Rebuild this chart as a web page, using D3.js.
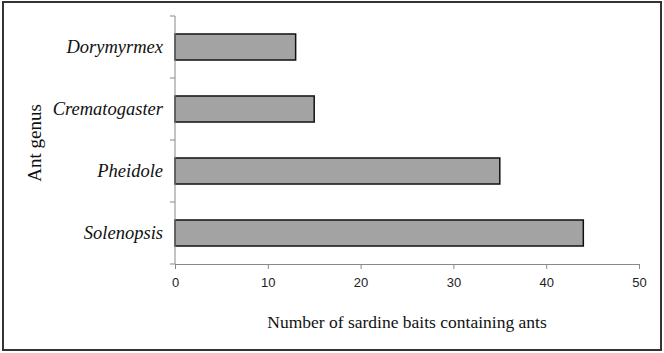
<!DOCTYPE html>
<html>
<head>
<meta charset="utf-8">
<script src="https://cdn.jsdelivr.net/npm/d3@7"></script>
<style>
  body { margin: 0; background: #fff; }
  svg { display: block; }
</style>
</head>
<body>
<svg id="chart"></svg>
<script>
// data
const genera = ["Dorymyrmex", "Crematogaster", "Pheidole", "Solenopsis"];
const baits = [13, 15, 35, 44];
const xTicks = [0, 10, 20, 30, 40, 50];

const width = 664;
const height = 353;
const margin = { top: 16, right: 25, bottom: 89, left: 175 };

const svg = d3.select("#chart").attr("width", width).attr("height", height);

// frame round the whole chart
svg.append("rect")
	.attr("x", 3).attr("y", 2)
	.attr("width", 658).attr("height", 348)
	.attr("fill", "none")
	.attr("stroke", "#333")
	.attr("stroke-width", 2);

const x = d3.scaleLinear().domain([0, 50]).range([margin.left, width - margin.right]);
const y = d3.scaleBand().domain(genera).range([margin.top, height - margin.bottom]).paddingInner(0.58).paddingOuter(0.29);

const g = svg.append("g");

// bars
g.selectAll("rect.bar")
	.data(genera)
	.enter()
	.append("rect")
	.classed("bar", true)
	.attr("x", x(0))
	.attr("y", (d) => y(d))
	.attr("width", (d, i) => x(baits[i]) - x(0))
	.attr("height", y.bandwidth())
	.attr("fill", "#a3a3a3")
	.attr("stroke", "#111")
	.attr("stroke-width", 1.5);

// x axis
const xAxis = g.append("g")
	.attr("transform", `translate(0,${height - margin.bottom})`)
	.call(d3.axisBottom(x).tickValues(xTicks).tickSize(5).tickPadding(9));
xAxis.select(".domain").attr("stroke", "#888");
xAxis.selectAll(".tick line").attr("stroke", "#888");
xAxis.selectAll(".tick text")
	.attr("font-family", "Liberation Sans, Arial, sans-serif")
	.attr("font-size", 13)
	.attr("fill", "#222");

// y axis: ticks sit between the categories
const yEdges = d3.range(genera.length + 1).map((i) => margin.top + i * (height - margin.bottom - margin.top) / genera.length);
const yAxis = g.append("g");
yAxis.append("line")
	.attr("x1", x(0)).attr("x2", x(0))
	.attr("y1", margin.top).attr("y2", height - margin.bottom)
	.attr("stroke", "#888");
yAxis.selectAll("line.tk")
	.data(yEdges)
	.enter()
	.append("line")
	.classed("tk", true)
	.attr("x1", x(0) - 5).attr("x2", x(0))
	.attr("y1", (d) => d).attr("y2", (d) => d)
	.attr("stroke", "#888");

// category labels
g.selectAll("text.cat")
	.data(genera)
	.enter()
	.append("text")
	.classed("cat", true)
	.attr("x", x(0) - 12)
	.attr("y", (d) => y(d) + y.bandwidth() / 2)
	.attr("dy", "0.35em")
	.attr("text-anchor", "end")
	.attr("font-family", "Liberation Serif, Times New Roman, serif")
	.attr("font-style", "italic")
	.attr("font-size", 18.5)
	.attr("fill", "#111")
	.text((d) => d);

// axis titles
svg.append("text")
	.attr("x", 407)
	.attr("y", 328)
	.attr("text-anchor", "middle")
	.attr("font-family", "Liberation Serif, Times New Roman, serif")
	.attr("font-size", 17.5)
	.attr("fill", "#111")
	.text("Number of sardine baits containing ants");

svg.append("text")
	.attr("transform", "translate(41,143) rotate(-90)")
	.attr("text-anchor", "middle")
	.attr("font-family", "Liberation Serif, Times New Roman, serif")
	.attr("font-size", 19)
	.attr("fill", "#111")
	.text("Ant genus");
</script>
</body>
</html>
